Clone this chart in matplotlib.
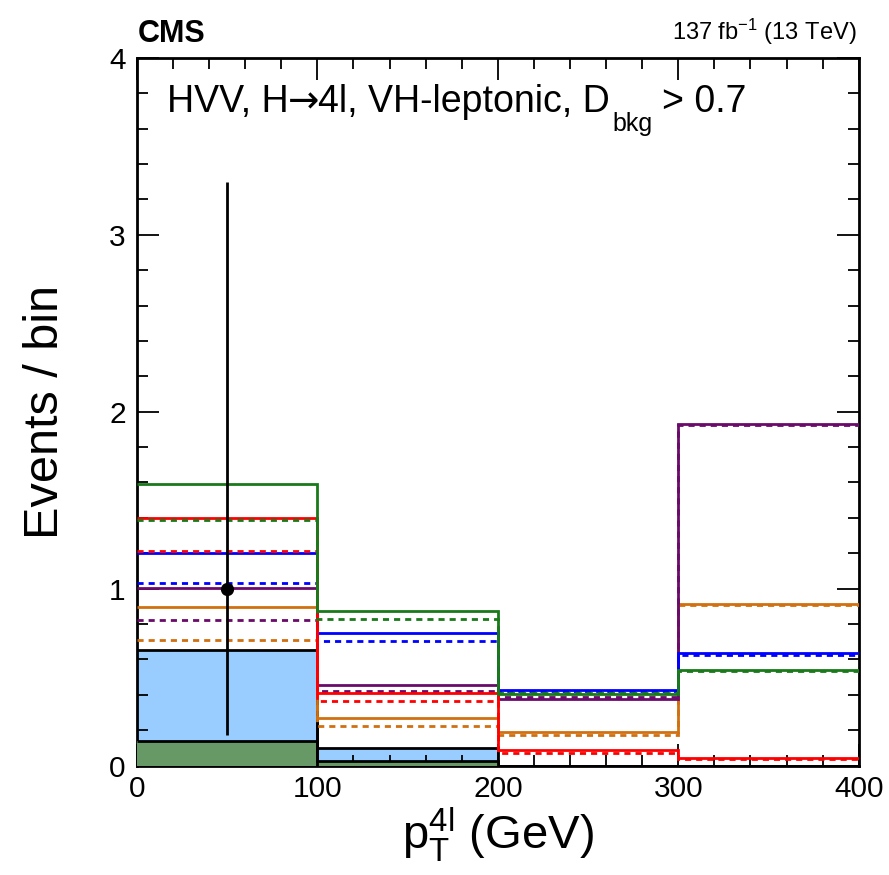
import numpy as np
import matplotlib
matplotlib.use("Agg")
import matplotlib.pyplot as plt
from matplotlib.ticker import MultipleLocator

plt.rcParams["font.family"] = ["Liberation Sans", "DejaVu Sans"]
plt.rcParams["mathtext.fontset"] = "custom"
plt.rcParams["mathtext.rm"] = "Liberation Sans"
plt.rcParams["mathtext.it"] = "Liberation Sans:italic"
plt.rcParams["mathtext.bf"] = "Liberation Sans:bold"

# binning in pT(4l)
bin_edges = [0, 100, 200, 300, 400]

# observed events per bin
data_counts = [1, 0, 0, 0]

# stacked backgrounds
bkg_green = [0.141, 0.028, 0.0, 0.0]
bkg_blue = [0.514, 0.072, 0.0, 0.0]

# signal hypotheses (solid / dashed)
green_solid = [1.593, 0.876, 0.405, 0.542]
green_dashed = [1.390, 0.829, 0.412, 0.533]
red_solid = [1.399, 0.408, 0.086, 0.043]
red_dashed = [1.215, 0.367, 0.072, 0.036]
blue_solid = [1.202, 0.748, 0.429, 0.636]
blue_dashed = [1.032, 0.704, 0.420, 0.625]
purple_solid = [1.004, 0.458, 0.378, 1.930]
purple_dashed = [0.821, 0.420, 0.385, 1.925]
orange_solid = [0.894, 0.269, 0.190, 0.913]
orange_dashed = [0.712, 0.224, 0.175, 0.906]

x_ticks = [0, 100, 200, 300, 400]
y_ticks = [0, 1, 2, 3, 4]

c_green = "#1a7a1a"
c_red = "#ff0000"
c_blue = "#0000ff"
c_purple = "#6a0a6a"
c_orange = "#d07010"

fig = plt.figure(figsize=(8.89, 8.75), dpi=100)
ax = fig.add_axes([0.154, 0.125, 0.812, 0.809])

edges = np.array(bin_edges)
bkg_total = np.array(bkg_green) + np.array(bkg_blue)

# stacked background fills
ax.stairs(bkg_total, edges, fill=True, color="#99ccff", zorder=1)
ax.stairs(bkg_total, edges, color="black", lw=2, zorder=2, baseline=None)
ax.stairs(bkg_green, edges, fill=True, color="#669966", zorder=3)
ax.stairs(bkg_green, edges, color="black", lw=2, zorder=4, baseline=None)
ax.plot([100, 100], [0, bkg_total[0]], color="black", lw=2, zorder=4)

dash = (0, (2.2, 1.8))
lw = 2.0
series = [
    (orange_dashed, c_orange, dash),
    (orange_solid, c_orange, "-"),
    (purple_dashed, c_purple, dash),
    (purple_solid, c_purple, "-"),
    (blue_dashed, c_blue, dash),
    (blue_solid, c_blue, "-"),
    (red_dashed, c_red, dash),
    (red_solid, c_red, "-"),
    (green_dashed, c_green, dash),
    (green_solid, c_green, "-"),
]
for vals, col, ls in series:
    ax.stairs(vals, edges, color=col, lw=lw, linestyle=ls, baseline=None, zorder=5)

# data with Poisson (Garwood) intervals
centers = 0.5 * (edges[:-1] + edges[1:])
obs = np.array(data_counts, dtype=float)
lo_err = {1: 0.827}
hi_err = {1: 2.300}
mask = obs > 0
yerr = np.array([[lo_err[int(v)] for v in obs[mask]],
                 [hi_err[int(v)] for v in obs[mask]]])
ax.errorbar(centers[mask], obs[mask], yerr=yerr, fmt="o", color="black",
            ms=8.5, elinewidth=2, capsize=0, zorder=10)

ax.set_xlim(0, 400)
ax.set_ylim(0, 4)
ax.set_xticks(x_ticks)
ax.set_yticks(y_ticks)
ax.xaxis.set_minor_locator(MultipleLocator(20))
ax.yaxis.set_minor_locator(MultipleLocator(0.2))
ax.tick_params(which="both", direction="in", top=True, right=True, width=1.3,
               labelsize=21.5)
ax.tick_params(which="major", length=16)
ax.tick_params(which="minor", length=8)
ax.tick_params(axis="y", pad=8)
ax.tick_params(axis="x", pad=7)
for sp in ax.spines.values():
    sp.set_linewidth(2)

ax.set_xlabel(r"p$_{\mathrm{T}}^{\mathrm{4l}}$ (GeV)", fontsize=34, labelpad=2)
ax.set_ylabel("Events / bin", fontsize=35, labelpad=30)

fig.text(0.155, 0.952, "CMS", fontsize=22, fontweight="bold", ha="left", va="baseline")
fig.text(0.964, 0.954, r"137 fb$^{-1}$ (13 TeV)", fontsize=17, ha="right", va="baseline")

# category label, built piece by piece: long arrow and ROOT-style subscript
fig.canvas.draw()
renderer = fig.canvas.get_renderer()
W = fig.bbox.width
y_base = 1 - 112 / 875
pieces = [
    ("HVV, H", 27, 0, "Liberation Sans", 0),
    ("\u2192", 27, 0, "DejaVu Sans", -1),
    ("4l, VH-leptonic, D", 27, 0, "Liberation Sans", -1),
    ("bkg", 18, -19, "Liberation Sans", 3),
    ("> 0.7", 27, 0, "Liberation Sans", 9),
]
x = 0.188 * W
for txt, size, dy, fam, gap in pieces:
    x += gap
    t = fig.text(x / W, y_base + dy / 875, txt, fontsize=size, family=fam,
                 ha="left", va="baseline")
    x = t.get_window_extent(renderer).x1

fig.savefig("out.png", dpi=100)
